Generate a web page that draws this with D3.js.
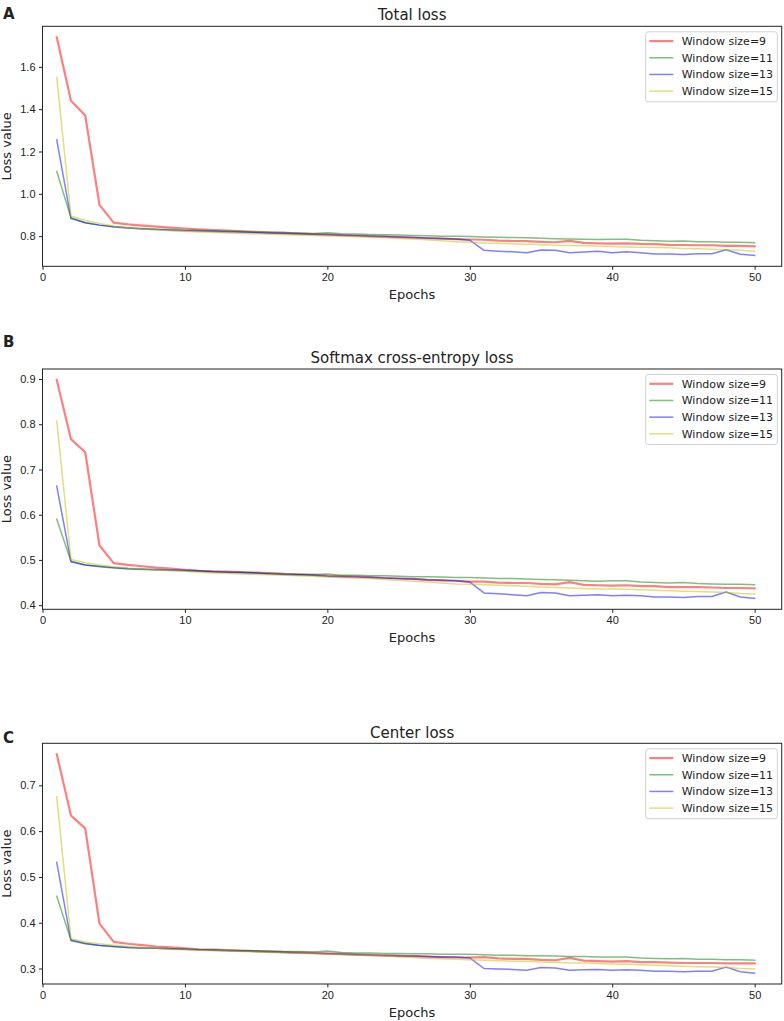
<!DOCTYPE html>
<html>
<head>
<meta charset="utf-8">
<script src="https://cdn.jsdelivr.net/npm/d3@7"></script>
<style>
  body { margin: 0; background: #fff; }
  svg { display: block; font-family: "DejaVu Sans", sans-serif; }
  .tick text { font-size: 11px; fill: #222; }
  .tick line { stroke: #222; }
</style>
</head>
<body>
<svg id="chart" width="784" height="1021"></svg>
<script>
const epochs = d3.range(1, 51);
const seriesNames = ["Window size=9", "Window size=11", "Window size=13", "Window size=15"];
const seriesColors = ["#ff0000", "#008000", "#0000ff", "#bfbf00"];
const seriesWidths = [2.2, 1.5, 1.5, 1.5];
const xTicks = [0, 10, 20, 30, 40, 50];

// Panel A: Total loss
const totalW9 = [1.74,1.44,1.37,0.948,0.864,0.856,0.850,0.845,0.840,0.836,0.832,0.829,0.826,0.823,0.820,0.817,0.815,0.812,0.810,0.808,0.805,0.803,0.800,0.798,0.795,0.793,0.790,0.788,0.786,0.784,0.783,0.779,0.777,0.776,0.773,0.771,0.778,0.768,0.766,0.765,0.766,0.763,0.762,0.759,0.758,0.757,0.757,0.754,0.754,0.752];
const totalW11 = [1.105,0.887,0.863,0.852,0.845,0.840,0.836,0.833,0.831,0.829,0.827,0.825,0.824,0.822,0.820,0.818,0.817,0.815,0.813,0.816,0.811,0.810,0.808,0.806,0.805,0.803,0.802,0.800,0.799,0.798,0.796,0.795,0.793,0.792,0.790,0.788,0.786,0.785,0.784,0.785,0.785,0.780,0.778,0.776,0.777,0.774,0.773,0.771,0.771,0.769];
const totalW13 = [1.255,0.883,0.863,0.852,0.843,0.838,0.834,0.831,0.828,0.826,0.824,0.822,0.820,0.818,0.816,0.814,0.812,0.810,0.808,0.806,0.804,0.802,0.800,0.798,0.796,0.794,0.791,0.789,0.787,0.781,0.733,0.729,0.726,0.722,0.735,0.733,0.722,0.725,0.728,0.722,0.726,0.722,0.716,0.716,0.713,0.717,0.717,0.736,0.714,0.709];
const totalW15 = [1.55,0.895,0.874,0.860,0.848,0.840,0.834,0.830,0.826,0.823,0.820,0.817,0.815,0.813,0.811,0.809,0.807,0.805,0.803,0.801,0.799,0.797,0.795,0.792,0.789,0.786,0.783,0.778,0.774,0.771,0.768,0.766,0.764,0.762,0.759,0.757,0.756,0.755,0.753,0.751,0.749,0.747,0.746,0.745,0.742,0.740,0.738,0.736,0.733,0.729];
const totalTicks = [0.8, 1.0, 1.2, 1.4, 1.6];

// Panel B: Softmax cross-entropy loss
const softW9 = [0.898,0.767,0.738,0.532,0.493,0.489,0.486,0.483,0.481,0.478,0.476,0.475,0.474,0.473,0.472,0.471,0.469,0.468,0.467,0.465,0.464,0.463,0.462,0.460,0.459,0.458,0.456,0.455,0.454,0.452,0.452,0.450,0.449,0.449,0.447,0.446,0.451,0.445,0.444,0.443,0.444,0.442,0.442,0.440,0.440,0.440,0.439,0.438,0.438,0.437];
const softW11 = [0.590,0.497,0.489,0.485,0.482,0.480,0.479,0.478,0.477,0.476,0.475,0.474,0.473,0.472,0.471,0.470,0.469,0.468,0.468,0.469,0.466,0.466,0.465,0.465,0.464,0.463,0.463,0.462,0.461,0.461,0.460,0.459,0.459,0.458,0.457,0.456,0.455,0.454,0.453,0.454,0.454,0.451,0.450,0.449,0.450,0.448,0.447,0.446,0.446,0.445];
const softW13 = [0.663,0.496,0.489,0.486,0.483,0.481,0.480,0.479,0.478,0.477,0.476,0.474,0.473,0.472,0.471,0.469,0.468,0.467,0.466,0.464,0.463,0.462,0.461,0.460,0.459,0.458,0.456,0.455,0.454,0.451,0.427,0.425,0.423,0.421,0.428,0.427,0.421,0.422,0.423,0.421,0.422,0.421,0.418,0.418,0.417,0.419,0.419,0.429,0.418,0.415];
const softW15 = [0.807,0.501,0.494,0.489,0.485,0.482,0.480,0.478,0.476,0.475,0.473,0.471,0.470,0.469,0.468,0.467,0.466,0.465,0.464,0.462,0.461,0.460,0.459,0.457,0.455,0.453,0.451,0.449,0.447,0.446,0.445,0.444,0.443,0.442,0.440,0.439,0.438,0.437,0.436,0.436,0.435,0.434,0.433,0.432,0.431,0.430,0.429,0.428,0.426,0.425];
const softTicks = [0.4, 0.5, 0.6, 0.7, 0.8, 0.9];

// Panel C: Center loss
const centerW9 = [0.768,0.634,0.606,0.398,0.358,0.354,0.351,0.348,0.346,0.344,0.342,0.341,0.340,0.339,0.338,0.337,0.336,0.335,0.334,0.333,0.332,0.331,0.330,0.329,0.328,0.327,0.326,0.325,0.324,0.324,0.325,0.322,0.321,0.321,0.319,0.318,0.323,0.317,0.316,0.315,0.316,0.314,0.314,0.313,0.312,0.312,0.312,0.311,0.311,0.311];
const centerW11 = [0.458,0.362,0.355,0.351,0.348,0.346,0.345,0.344,0.343,0.342,0.341,0.341,0.340,0.339,0.339,0.338,0.337,0.337,0.336,0.338,0.335,0.334,0.334,0.333,0.333,0.332,0.332,0.331,0.331,0.331,0.330,0.329,0.329,0.328,0.328,0.327,0.326,0.326,0.325,0.325,0.325,0.323,0.322,0.321,0.322,0.320,0.320,0.319,0.319,0.318];
const centerW13 = [0.532,0.361,0.354,0.350,0.348,0.346,0.345,0.344,0.343,0.342,0.341,0.340,0.339,0.338,0.337,0.336,0.335,0.334,0.333,0.332,0.331,0.330,0.329,0.328,0.327,0.327,0.326,0.325,0.325,0.323,0.300,0.299,0.298,0.296,0.302,0.301,0.296,0.297,0.298,0.296,0.297,0.296,0.294,0.294,0.293,0.294,0.294,0.303,0.293,0.290];
const centerW15 = [0.675,0.365,0.358,0.354,0.351,0.348,0.346,0.344,0.342,0.341,0.340,0.339,0.338,0.337,0.336,0.335,0.334,0.333,0.332,0.331,0.330,0.329,0.328,0.327,0.325,0.324,0.322,0.321,0.320,0.319,0.318,0.317,0.316,0.316,0.314,0.313,0.312,0.312,0.311,0.310,0.309,0.308,0.307,0.306,0.305,0.304,0.303,0.302,0.300,0.299];
const centerTicks = [0.3, 0.4, 0.5, 0.6, 0.7];

const panels = [
  { letter: "A", title: "Total loss", series: [totalW9, totalW11, totalW13, totalW15], ticks: totalTicks,
    top: 26.3, bottom: 266.3, letterY: 18.5, titleY: 19.5, bold: true },
  { letter: "B", title: "Softmax cross-entropy loss", series: [softW9, softW11, softW13, softW15], ticks: softTicks,
    top: 369, bottom: 609.3, letterY: 347, titleY: 362.5, bold: true },
  { letter: "C", title: "Center loss", series: [centerW9, centerW11, centerW13, centerW15], ticks: centerTicks,
    top: 743.3, bottom: 984, letterY: 743, titleY: 737.5, bold: true }
];

const svg = d3.select("#chart");
const left = 42.5, right = 781.7;
const x = d3.scaleLinear().domain([0, 51.9]).range([left, right]);

panels.forEach(p => {
  const all = p.series.flat();
  const lo = d3.min(all), hi = d3.max(all), m = (hi - lo) * 0.05;
  const y = d3.scaleLinear().domain([lo - m, hi + m]).range([p.bottom, p.top]);
  const g = svg.append("g");

  const line = d3.line().x((d, i) => x(epochs[i])).y(d => y(d));
  p.series.forEach((s, k) => {
    g.append("path").datum(s).attr("d", line)
      .attr("fill", "none").attr("stroke", seriesColors[k]).attr("stroke-opacity", 0.5)
      .attr("stroke-width", seriesWidths[k]).attr("stroke-linejoin", "round").attr("stroke-linecap", "square");
  });

  // frame
  g.append("rect").attr("x", left).attr("y", p.top).attr("width", right - left).attr("height", p.bottom - p.top)
    .attr("fill", "none").attr("stroke", "#222").attr("stroke-width", 1);

  const xa = g.append("g").attr("transform", `translate(0,${p.bottom})`)
    .call(d3.axisBottom(x).tickValues(xTicks).tickSize(3.5).tickPadding(3.5).tickFormat(d3.format("d")));
  xa.select(".domain").remove();
  const ya = g.append("g").attr("transform", `translate(${left},0)`)
    .call(d3.axisLeft(y).tickValues(p.ticks).tickSize(3.5).tickPadding(3.5).tickFormat(d3.format(".1f")));
  ya.select(".domain").remove();

  g.append("text").attr("x", (left + right) / 2).attr("y", p.bottom + 33).attr("text-anchor", "middle")
    .attr("font-size", 13).attr("fill", "#222").text("Epochs");
  g.append("text").attr("transform", `translate(11,${(p.top + p.bottom) / 2}) rotate(-90)`)
    .attr("text-anchor", "middle").attr("font-size", 13).attr("fill", "#222").text("Loss value");
  g.append("text").attr("x", (left + right) / 2).attr("y", p.titleY).attr("text-anchor", "middle")
    .attr("font-size", 15).attr("fill", "#222").text(p.title);
  g.append("text").attr("x", 3).attr("y", p.letterY).attr("font-size", 15).attr("font-weight", "bold")
    .attr("fill", "#222").text(p.letter);

  // legend
  const lx = 645.7, ly = p.top + 5.5, lw = 131.6, lh = 70;
  const lg = g.append("g");
  lg.append("rect").attr("x", lx).attr("y", ly).attr("width", lw).attr("height", lh).attr("rx", 2.5)
    .attr("fill", "#fff").attr("fill-opacity", 0.8).attr("stroke", "#d0d0d0").attr("stroke-width", 1);
  seriesNames.forEach((n, k) => {
    const ry = ly + 9.3 + k * 16.67;
    lg.append("line").attr("x1", lx + 3.6).attr("x2", lx + 27.6).attr("y1", ry).attr("y2", ry)
      .attr("stroke", seriesColors[k]).attr("stroke-opacity", 0.5).attr("stroke-width", seriesWidths[k]);
    lg.append("text").attr("x", lx + 36).attr("y", ry).attr("dy", "0.35em").attr("font-size", 11)
      .attr("fill", "#222").text(n);
  });
});
</script>
</body>
</html>
